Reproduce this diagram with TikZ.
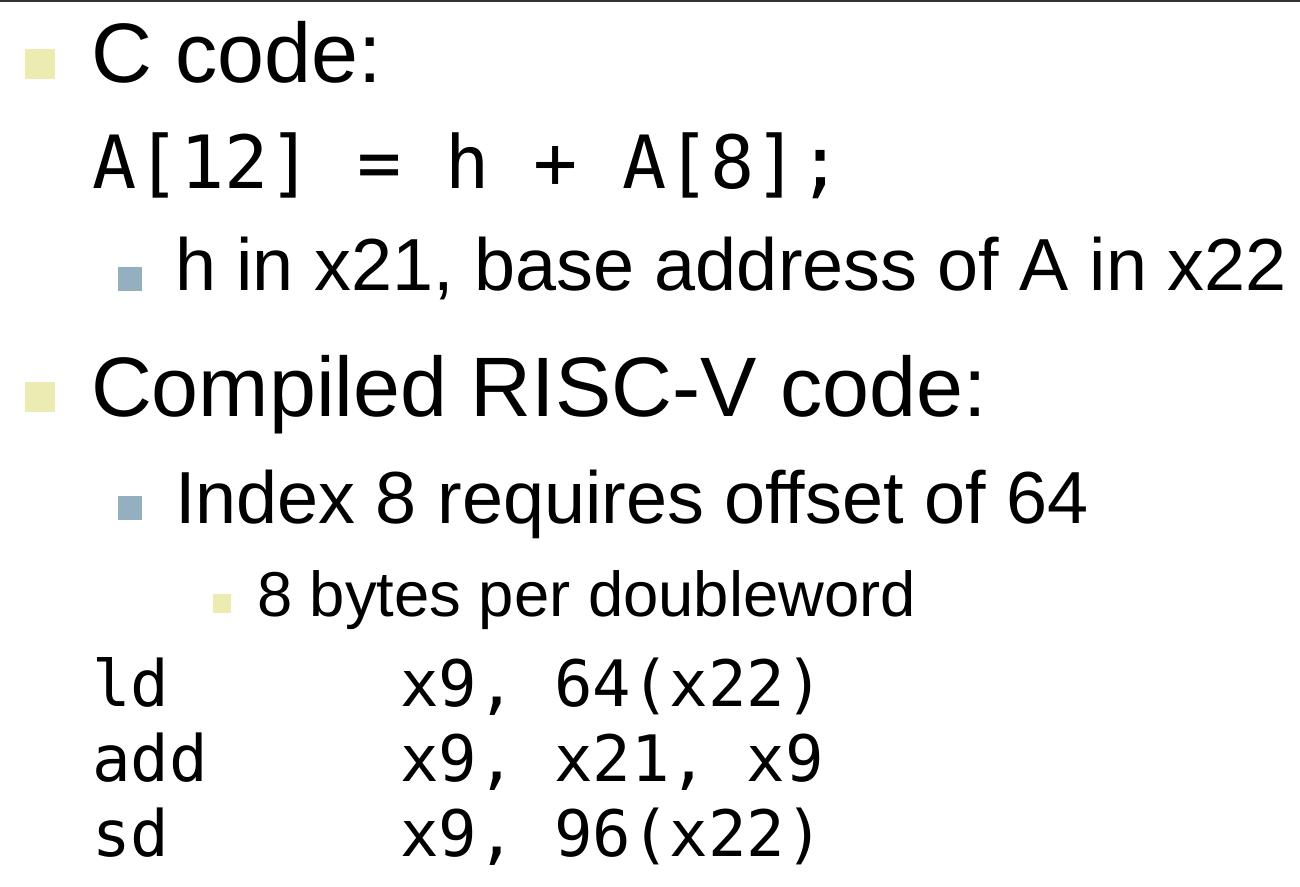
\documentclass[tikz,border=0pt]{standalone}
\usepackage{fontspec}
\setmainfont{Liberation Sans}
\setmonofont{DejaVu Sans Mono}
\definecolor{bulyellow}{RGB}{236,235,178}
\definecolor{bulblue}{RGB}{148,175,191}
\definecolor{topline}{RGB}{50,50,50}
\begin{document}
\begin{tikzpicture}[x=0.5pt,y=-0.5pt,
  txt/.style={anchor=base west,inner sep=0pt,outer sep=0pt,text=black},
  lvlone/.style={txt,font=\fontsize{42.2}{50}\selectfont},
  lvltwo/.style={txt,font=\fontsize{36.9}{44}\selectfont},
  lvlthree/.style={txt,font=\fontsize{31.7}{38}\selectfont},
  ccode/.style={txt,font=\ttfamily\fontsize{36.7}{44}\selectfont},
  asm/.style={txt,font=\ttfamily\fontsize{32}{38}\selectfont},
  bulone/.style={fill=bulyellow,draw=none,inner sep=0pt,minimum width=15pt,minimum height=15pt,anchor=north west},
  bultwo/.style={fill=bulblue,draw=none,inner sep=0pt,minimum width=12pt,minimum height=12pt,anchor=north west},
  bulthree/.style={fill=bulyellow,draw=none,inner sep=0pt,minimum width=9pt,minimum height=9.5pt,anchor=north west}
]
\fill[white] (0,0) rectangle (1300,887);
\fill[topline] (0,0) rectangle (1300,2.5);

% C code
\node[bulone] (b1) at (25,49) {};
\node[lvlone] (t1) at (91,83) {C code:};
\node[ccode] (c1) at (92,189) {A[12] = h + A[8];};
\node[bultwo] (b2) at (118,267) {};
\node[lvltwo] (t2) at (175,291) {h in x21, base address of A in x22};

% Compiled
\node[bulone] (b3) at (25,382) {};
\node[lvlone] (t3) at (91,416) {Compiled RISC-V code:};
\node[bultwo] (b4) at (118,496) {};
\node[lvltwo] (t4) at (175,523) {Index 8 requires offset of 64};
\node[bulthree] (b5) at (213,594) {};
\node[lvlthree] (t5) at (257,616) {8 bytes per doubleword};

% assembly
\node[asm] (op1) at (92,706) {ld};
\node[asm] (ar1) at (400,706) {x9, 64(x22)};
\node[asm] (op2) at (92,781) {add};
\node[asm] (ar2) at (400,781) {x9, x21, x9};
\node[asm] (op3) at (92,856) {sd};
\node[asm] (ar3) at (400,856) {x9, 96(x22)};
\end{tikzpicture}
\end{document}
